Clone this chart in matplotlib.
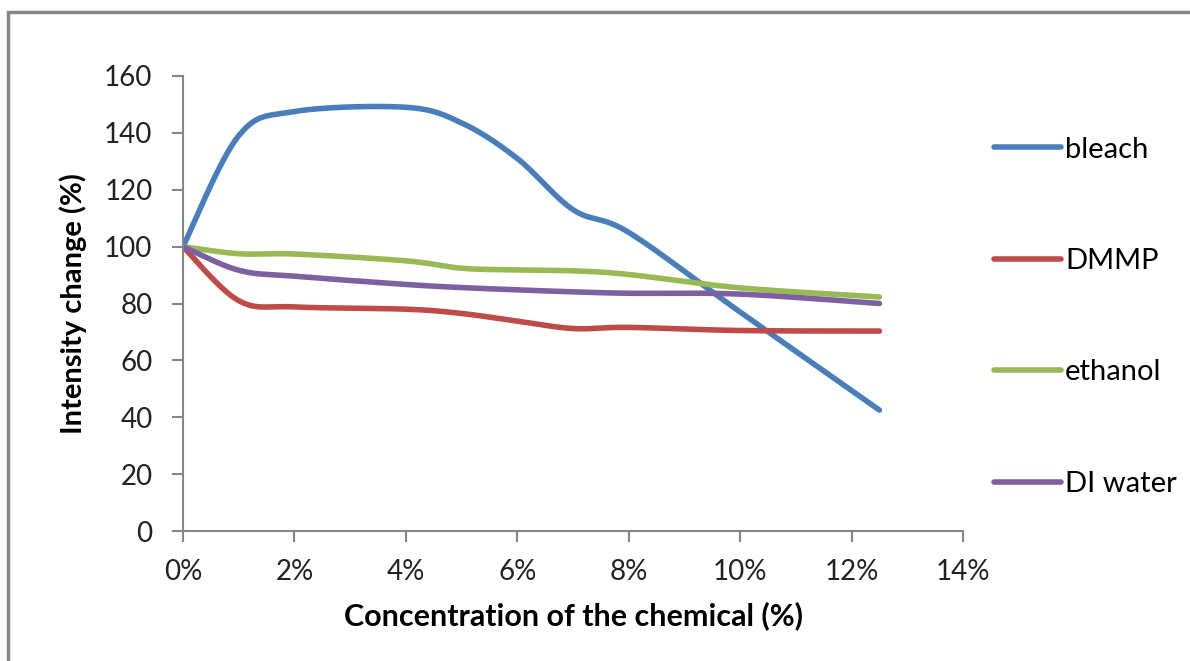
import numpy as np
import matplotlib.pyplot as plt
from matplotlib.patches import Rectangle
from matplotlib.ticker import FuncFormatter

# Concentration (%) and intensity change (%) per chemical
conc = [0, 1, 2, 4, 5, 6, 7, 8, 10, 12.5]
bleach = [100, 139, 147.5, 149, 143.5, 131, 113, 105, 77, 42.5]
dmmp = [100, 81, 78.8, 78, 76.5, 73.8, 71.2, 71.6, 70.5, 70.3]
ethanol = [100, 97.5, 97.4, 95, 92.4, 91.8, 91.5, 90.2, 85.5, 82.3]
di_water = [100, 91.7, 89.6, 86.7, 85.6, 84.8, 84.1, 83.6, 83.3, 80]

series = [("bleach", bleach, "#4A7EBB"),
          ("DMMP", dmmp, "#BE4B48"),
          ("ethanol", ethanol, "#98B954"),
          ("DI water", di_water, "#7D60A0")]


def smooth(x, y, n=40):
    # cubic bezier through the points, tangents from neighbouring points
    p = np.column_stack([x, y]).astype(float)
    pts = []
    for i in range(len(p) - 1):
        p0 = p[max(i - 1, 0)]
        p1, p2 = p[i], p[i + 1]
        p3 = p[min(i + 2, len(p) - 1)]
        c1 = p1 + (p2 - p0) / 6
        c2 = p2 - (p3 - p1) / 6
        t = np.linspace(0, 1, n)[:, None]
        seg = ((1 - t) ** 3 * p1 + 3 * (1 - t) ** 2 * t * c1
               + 3 * (1 - t) * t ** 2 * c2 + t ** 3 * p2)
        pts.append(seg if i == 0 else seg[1:])
    pts = np.vstack(pts)
    return pts[:, 0], pts[:, 1]


plt.rcParams['font.family'] = ['Lato', 'DejaVu Sans']

fig = plt.figure(figsize=(11.9, 6.61), dpi=100)
ax = fig.add_axes([183 / 1190, 1 - 531 / 661, 780 / 1190, 455 / 661])

for name, vals, col in series:
    sx, sy = smooth(conc, vals)
    ax.plot(sx, sy, color=col, lw=4, solid_capstyle='round', label=name)

ax.set_xlim(0, 14)
ax.set_ylim(0, 160)
ax.set_xticks(np.arange(0, 15, 2))
ax.set_yticks(np.arange(0, 161, 20))
ax.xaxis.set_major_formatter(FuncFormatter(lambda v, _: f"{v:.0f}%"))

grey = "#868686"
for side in ["top", "right"]:
    ax.spines[side].set_visible(False)
for side in ["left", "bottom"]:
    ax.spines[side].set_color(grey)
    ax.spines[side].set_linewidth(1.5)
ax.tick_params(axis='both', colors=grey, labelcolor='#222222',
               labelsize=20, length=8, width=1.5)
ax.tick_params(axis='y', pad=14)
ax.tick_params(axis='x', pad=12)

ax.set_xlabel("Concentration of the chemical (%)", fontsize=22,
              fontweight='bold', labelpad=12)
ax.set_ylabel("Intensity change (%)", fontsize=21, fontweight='bold',
              labelpad=12)

fig.legend(loc='upper left', bbox_to_anchor=(979 / 1190, 1 - 122 / 661),
           frameon=False, fontsize=21, handlelength=2.3,
           handletextpad=0.15, labelspacing=2.93, borderpad=0)

# outer chart frame
fig.add_artist(Rectangle((8 / 1190, -0.05), 1.2, 1 - 12 / 661 + 0.05,
                         transform=fig.transFigure, fill=False,
                         edgecolor="#888888", lw=2.5))

fig.savefig("out.png", dpi=100)
